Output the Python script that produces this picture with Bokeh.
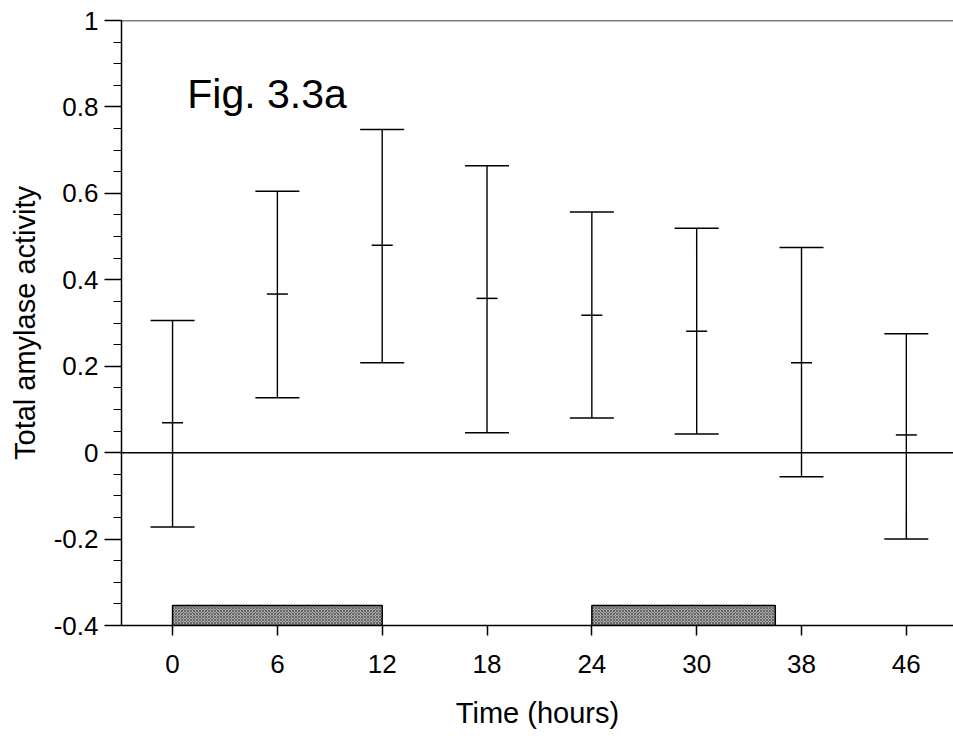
import numpy as np
from bokeh.plotting import figure
from bokeh.models import (ColumnDataSource, FixedTicker, Span, Label, Whisker, TeeHead)
from bokeh.embed import file_html
from bokeh.resources import INLINE

# ---- data ----
hours = [0, 6, 12, 18, 24, 30, 38, 46]
tick_labels = ["0", "6", "12", "18", "24", "30", "38", "46"]
mean_vals = [0.069, 0.367, 0.480, 0.357, 0.318, 0.281, 0.208, 0.041]
upper_vals = [0.306, 0.605, 0.748, 0.664, 0.557, 0.519, 0.475, 0.275]
lower_vals = [-0.172, 0.127, 0.208, 0.046, 0.080, 0.043, -0.056, -0.200]
dark_start_hours = [0, 24]
dark_end_hours = [12, 36]
dark_bottom = -0.4
dark_top = -0.354

FONT = "Liberation Sans"

idx = list(range(len(hours)))
src = ColumnDataSource(dict(x=idx, mean=mean_vals, upper=upper_vals, lower=lower_vals))

bar_left = np.interp(dark_start_hours, hours, idx)
bar_right = np.interp(dark_end_hours, hours, idx)
bsrc = ColumnDataSource(dict(left=bar_left, right=bar_right,
                             bottom=[dark_bottom] * len(bar_left), top=[dark_top] * len(bar_left)))

p = figure(width=953, height=740, output_backend="svg", toolbar_location=None,
           x_range=(-0.487, 7.45), y_range=(-0.4, 1.0),
           min_border_left=121, min_border_top=20, min_border_bottom=115, min_border_right=0)
p.outline_line_color = None
p.grid.visible = False
p.background_fill_color = "white"

# shaded bars
p.quad(left="left", right="right", bottom="bottom", top="top", source=bsrc,
       fill_color="#a9a9a9", hatch_pattern="x", hatch_scale=3, hatch_color="#3a3a3a",
       hatch_weight=0.6, line_color="black", line_width=1.5)

# error bars
w = Whisker(base="x", upper="upper", lower="lower", source=src, dimension="height",
            line_color="black", line_width=1.4,
            upper_head=TeeHead(size=44, line_color="black", line_width=1.5),
            lower_head=TeeHead(size=44, line_color="black", line_width=1.5))
p.add_layout(w)
p.scatter(x="x", y="mean", source=src, marker="dash", size=21, line_color="black",
          line_width=1.5)

# zero line and top border
p.add_layout(Span(location=0, dimension="width", line_color="black", line_width=1.5))
p.add_layout(Span(location=1.0, dimension="width", line_color="black", line_width=1.5))

# axes
p.xaxis.ticker = FixedTicker(ticks=idx)
p.xaxis.major_label_overrides = {i: t for i, t in zip(idx, tick_labels)}
p.xaxis.axis_label = "Time (hours)"
p.yaxis.ticker = FixedTicker(ticks=[-0.4, -0.2, 0, 0.2, 0.4, 0.6, 0.8, 1.0],
                             minor_ticks=list(np.round(np.arange(-0.4, 1.0001, 0.05), 2)))
p.yaxis.major_label_overrides = {-0.4: "-0.4", -0.2: "-0.2", 0: "0", 0.2: "0.2",
                                 0.4: "0.4", 0.6: "0.6", 0.8: "0.8", 1.0: "1"}
p.yaxis.axis_label = "Total amylase activity"

for ax in (p.xaxis[0], p.yaxis[0]):
    ax.axis_line_color = "black"
    ax.axis_line_width = 1.5
    ax.major_tick_line_color = "black"
    ax.major_tick_line_width = 1.5
    ax.minor_tick_line_color = "black"
    ax.minor_tick_line_width = 1.2
    ax.major_tick_in = 0
    ax.minor_tick_in = 0
    ax.major_label_text_font = FONT
    ax.major_label_text_font_size = "26px"
    ax.major_label_text_color = "black"
    ax.axis_label_text_font = FONT
    ax.axis_label_text_font_size = "29px"
    ax.axis_label_text_font_style = "normal"
    ax.axis_label_text_color = "black"

p.xaxis.major_tick_out = 10
p.xaxis.minor_tick_out = 0
p.xaxis.major_label_standoff = 19
p.xaxis.axis_label_standoff = 21
p.yaxis.major_tick_out = 17
p.yaxis.minor_tick_out = 8
p.yaxis.major_label_standoff = 6
p.yaxis.axis_label_standoff = 10

p.add_layout(Label(x=0.14, y=0.83, text="Fig. 3.3a", text_font=FONT,
                   text_font_size="41px", text_color="black", text_baseline="alphabetic"))

open("out.html", "w").write(file_html(p, INLINE))
